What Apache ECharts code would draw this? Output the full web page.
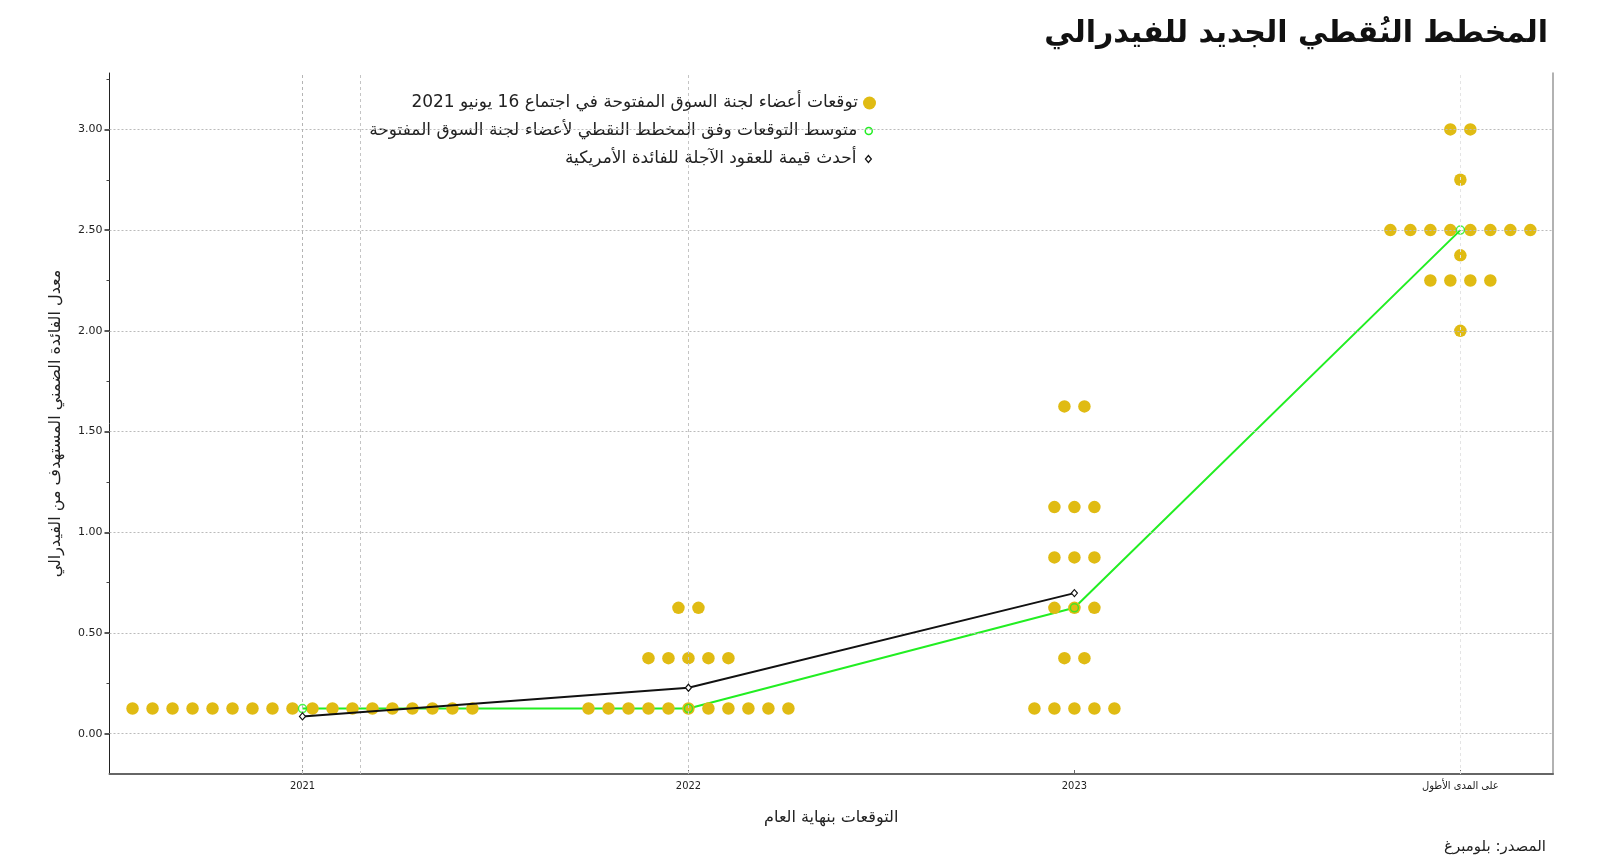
<!DOCTYPE html>
<html><head><meta charset="utf-8">
<script src="https://cdn.jsdelivr.net/npm/echarts@6/dist/echarts.min.js"></script>
<style>html,body{margin:0;padding:0;background:#fff}#c{width:1600px;height:863px}</style>
</head><body><div id="c"></div>
<script>
// ---------- data ----------
const categories = ['2021', '2022', '2023', 'على المدى الأطول'];
// FOMC participants' dots: [rate, number of participants] for each category
const dots2021 = [[0.125, 18]];
const dots2022 = [[0.125, 11], [0.375, 5], [0.625, 2]];
const dots2023 = [[0.125, 5], [0.375, 2], [0.625, 3], [0.875, 3], [1.125, 3], [1.625, 2]];
const dotsLong = [[2.0, 1], [2.25, 4], [2.375, 1], [2.5, 8], [2.75, 1], [3.0, 2]];
const medianValues = [0.125, 0.125, 0.625, 2.5];
const futuresValues = [0.086, 0.228, 0.698];
const yTickValues = [0, 0.5, 1, 1.5, 2, 2.5, 3];
const yMinorTickValues = [0.25, 0.75, 1.25, 1.75, 2.25, 2.75, 3.25];

const titleText = 'المخطط النُقطي الجديد للفيدرالي';
const sourceText = 'المصدر: بلومبرغ';
const yAxisName = 'معدل الفائدة الضمني المستهدف من الفيدرالي';
const xAxisName = 'التوقعات بنهاية العام';
const nameDots = 'توقعات أعضاء لجنة السوق المفتوحة في اجتماع 16 يونيو 2021';
const nameMedian = 'متوسط التوقعات وفق المخطط النقطي لأعضاء لجنة السوق المفتوحة';
const nameFutures = 'أحدث قيمة للعقود الآجلة للفائدة الأمريكية';

// ---------- build ----------
const DOT_STEP = 0.0518; // horizontal spacing between dots (in category units)
const dotGroups = [dots2021, dots2022, dots2023, dotsLong];
const dotData = [];
dotGroups.forEach((g, ci) => {
  g.forEach(([rate, n]) => {
    for (let k = 0; k < n; k++) {
      dotData.push([ci + (k - (n - 1) / 2) * DOT_STEP, rate]);
    }
  });
});
const medianData = medianValues.map((v, i) => [i, v]);
const futuresData = futuresValues.map((v, i) => [i, v]);

const AR = "'DejaVu Sans', sans-serif";
const GOLD = '#e0bb13';
const GREEN = '#22ee22';

const hLines = yTickValues.map(v => ({ yAxis: v, lineStyle: { color: '#bbb', type: [2, 2], width: 1 } }));
const vLines = [
  { xAxis: 0, lineStyle: { color: '#b4b4b4', type: [3, 3], width: 1 } },
  { xAxis: 0.15, lineStyle: { color: '#c4c4c4', type: [3, 3], width: 1 } },
  { xAxis: 1, lineStyle: { color: '#c4c4c4', type: [3, 3], width: 1 } },
  { xAxis: 3, lineStyle: { color: '#e4e4e4', type: [3, 3], width: 1 } }
];

const chart = echarts.init(document.getElementById('c'), null, { renderer: 'canvas' });
chart.setOption({
  backgroundColor: '#fff',
  animation: false,
  title: [
    { text: titleText, right: 47, top: 14, textStyle: { fontFamily: AR, fontSize: 30, fontWeight: 'bold', color: '#111' } },
    { text: sourceText, right: 49, top: 835, textStyle: { fontFamily: AR, fontSize: 15, fontWeight: 'normal', color: '#222' } }
  ],
  legend: [
    { data: [{ name: nameDots, icon: 'circle', itemStyle: { color: GOLD } }], right: 724, top: 92, padding: 0, align: 'right', orient: 'vertical',
      itemWidth: 13, itemHeight: 13, textStyle: { fontFamily: AR, fontSize: 17, color: '#222', lineHeight: 22 } },
    { data: [{ name: nameMedian, icon: 'circle', itemStyle: { color: '#fff', borderColor: GREEN, borderWidth: 1.5 } }], right: 727, top: 120, padding: 0, align: 'right', orient: 'vertical',
      itemWidth: 7, itemHeight: 7, textStyle: { fontFamily: AR, fontSize: 17, color: '#222', lineHeight: 22, padding: [0, 3, 0, 0] } },
    { data: [{ name: nameFutures, icon: 'diamond', itemStyle: { color: '#fff', borderColor: '#111', borderWidth: 1.2 } }], right: 728, top: 148, padding: 0, align: 'right', orient: 'vertical',
      itemWidth: 6, itemHeight: 7, textStyle: { fontFamily: AR, fontSize: 17, color: '#222', lineHeight: 22, padding: [0, 4, 0, 0] } }
  ],
  grid: { left: 109.5, right: 47, top: 73, bottom: 89, containLabel: false },
  xAxis: {
    type: 'value', min: -0.5, max: 3.24,
    axisLine: { show: true, onZero: false, lineStyle: { color: '#666', width: 2 } },
    axisTick: { show: true, inside: true, length: 4, customValues: [0, 1, 2, 3], lineStyle: { color: '#666' } },
    axisLabel: { customValues: [0, 1, 2, 3], formatter: v => categories[Math.round(v)], fontFamily: "'DejaVu Sans Condensed', 'DejaVu Sans', sans-serif", fontSize: 11, color: '#222', margin: 7 },
    splitLine: { show: false },
    name: xAxisName, nameLocation: 'middle', nameGap: 36,
    nameTextStyle: { fontFamily: AR, fontSize: 16, color: '#222' }
  },
  yAxis: [
    {
      type: 'value', min: -0.2, max: 3.28, position: 'left',
      axisLine: { show: true, onZero: false, lineStyle: { color: '#222', width: 1 } },
      axisTick: { show: true, length: 5, customValues: yTickValues, lineStyle: { color: '#222', width: 1.5 } },
      axisLabel: { customValues: yTickValues, formatter: v => v.toFixed(2), fontFamily: "'DejaVu Sans', sans-serif", fontSize: 11, color: '#222', margin: 7 },
      splitLine: { show: false },
      name: yAxisName, nameLocation: 'middle', nameGap: 46, nameRotate: 90,
      nameTextStyle: { fontFamily: AR, fontSize: 16, color: '#222' }
    },
    {
      type: 'value', min: -0.2, max: 3.28, position: 'left',
      axisLine: { show: false, onZero: false },
      axisTick: { show: true, length: 3, customValues: yMinorTickValues, lineStyle: { color: '#444' } },
      axisLabel: { show: false },
      splitLine: { show: false }
    },
    {
      type: 'value', min: -0.2, max: 3.28, position: 'right',
      axisLine: { show: true, onZero: false, lineStyle: { color: '#999', width: 1.5 } },
      axisTick: { show: false }, axisLabel: { show: false }, splitLine: { show: false }
    }
  ],
  series: [
    {
      name: '_grid', type: 'line', data: [], silent: true, z: 0,
      markLine: { silent: true, symbol: 'none', label: { show: false }, data: hLines.concat(vLines), animation: false }
    },
    {
      name: nameMedian, type: 'line', data: medianData, showSymbol: false, symbol: 'none', z: 1,
      lineStyle: { color: GREEN, width: 2 }, itemStyle: { color: GREEN }
    },
    {
      name: nameDots, type: 'scatter', data: dotData, symbol: 'circle', symbolSize: 12.5, z: 2,
      itemStyle: { color: GOLD, opacity: 1 }
    },
    {
      name: '_medianMarks', type: 'scatter', data: medianData, symbol: 'circle', symbolSize: 8, z: 4,
      itemStyle: { color: 'rgba(255,255,255,0)', borderColor: GREEN, borderWidth: 1.5 }
    },
    {
      name: nameFutures, type: 'line', data: futuresData, symbol: 'diamond', symbolSize: [6, 7], showAllSymbol: true, z: 5,
      lineStyle: { color: '#111', width: 2 }, itemStyle: { color: '#fff', borderColor: '#111', borderWidth: 1.2 }
    }
  ]
});
</script>
</body></html>
